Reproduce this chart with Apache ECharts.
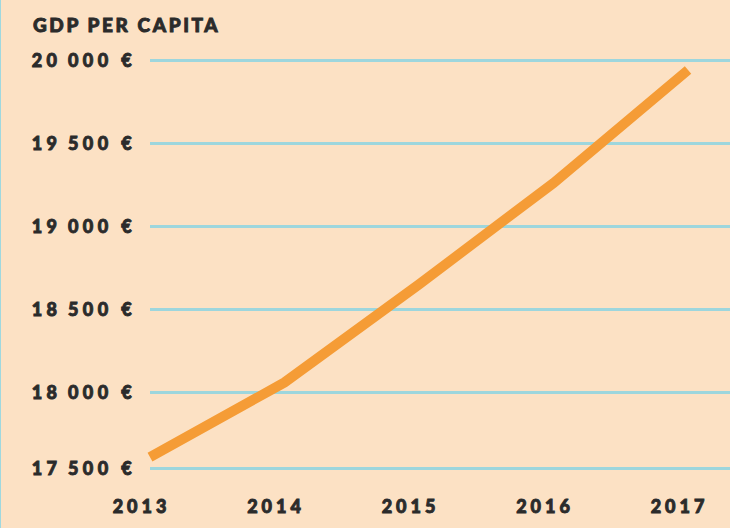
<!DOCTYPE html>
<html>
<head>
<meta charset="utf-8">
<script src="https://cdn.jsdelivr.net/npm/echarts@6/dist/echarts.min.js"></script>
<style>
  html, body { margin: 0; padding: 0; background: #fce1c4; }
  #wrap { position: relative; width: 730px; height: 528px; }
  #chart { width: 730px; height: 528px; }
  #edge { position: absolute; left: 0; top: 0; width: 1px; height: 528px; background: #9fd8df; }
  #chart text { letter-spacing: 2.6px; white-space: pre; }
  #chart text[text-anchor="end"] { letter-spacing: 4.4px; }
  #chart text[text-anchor="middle"] { letter-spacing: 4px; }
</style>
</head>
<body>
<div id="wrap">
  <div id="chart"></div>
  <div id="edge"></div>
</div>
<script>
const years = [2013, 2014, 2015, 2016, 2017];
const gdpPerCapita = [17610, 18060, 18650, 19260, 19940];
const yTickLabels = [17500, 18000, 18500, 19000, 19500, 20000];
// the bottom rule of the original sits a little above 17 500
const yBottom = 17545;
const yTop = 20000;

const ink = '#2b2b2b';
const font = 'Lato, "Open Sans", sans-serif';
const heavy = { color: ink, fontFamily: font, fontWeight: 900, textBorderColor: ink, textBorderWidth: 0.9 };

const euro = (v) => {
  const n = v <= yBottom ? 17500 : Math.round(v);
  const k = Math.floor(n / 1000);
  const r = String(n % 1000).padStart(3, '0');
  return k + '\u2009' + r + ' €';
};
const tickPos = yTickLabels.map((v) => (v < yBottom ? yBottom : v));

const chart = echarts.init(document.getElementById('chart'), null, { renderer: 'svg' });

chart.setOption({
  backgroundColor: '#fce1c4',
  animation: false,
  title: {
    text: 'GDP PER CAPITA',
    left: 28,
    top: 10,
    textStyle: { ...heavy, fontSize: 19 },
  },
  grid: { left: 150, right: 0, top: 60, bottom: 60 },
  xAxis: {
    type: 'value',
    min: 2013,
    max: 2017.312,
    axisLine: { show: false },
    axisTick: { show: false, customValues: years },
    splitLine: { show: false },
    axisLabel: {
      ...heavy,
      customValues: years,
      formatter: (v) => String(v),
      fontSize: 18,
      margin: 29,
      padding: [0, 17, 0, 0],
    },
  },
  yAxis: {
    type: 'value',
    min: yBottom,
    max: yTop,
    axisLine: { show: false },
    axisTick: { show: false, customValues: tickPos },
    splitLine: { show: true, lineStyle: { color: '#9dd6dd', width: 3 } },
    axisLabel: {
      ...heavy,
      customValues: tickPos,
      formatter: euro,
      fontSize: 18,
      margin: 14,
    },
  },
  series: [{
    type: 'line',
    data: years.map((y, i) => [y, gdpPerCapita[i]]),
    showSymbol: false,
    clip: false,
    lineStyle: { color: '#f59c36', width: 10, cap: 'butt', join: 'miter' },
  }],
});
</script>
</body>
</html>
